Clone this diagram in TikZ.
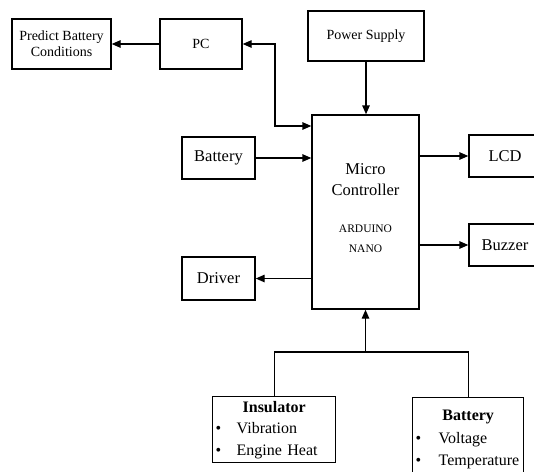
\documentclass[tikz,border=0pt]{standalone}
\usepackage{fontspec}
\setmainfont{Liberation Serif}
\usetikzlibrary{arrows.meta}

\begin{document}
\begin{tikzpicture}[x=1pt,y=-1pt,line width=1.4pt,
        >={Triangle[length=9pt,width=7.5pt]},
        blk/.style={draw,rectangle,inner sep=2pt,align=center},
        sml/.style={font=\fontsize{14}{16}\selectfont},
        big/.style={font=\fontsize{16.5}{21}\selectfont},
        lst/.style={draw,rectangle,anchor=north west,align=left,inner xsep=3pt,inner ysep=0pt,font=\fontsize{16}{21.5}\selectfont}]
        \useasboundingbox (0,0) rectangle (534,471);
        \node[blk,sml,minimum width=99,minimum height=50] (pred) at (61.5,44) {Predict Battery\\Conditions};
        \node[blk,sml,minimum width=82,minimum height=50] (pc) at (201,44) {PC};
        \node[blk,sml,minimum width=116,minimum height=50] (pwr) at (366,36) {Power Supply};
        \node[blk,minimum width=107,minimum height=194] (mc) at (365.5,212) {};
        \node[align=center,big] (mctxt) at (365.5,208) {Micro\\Controller\\[16pt]{\fontsize{11.5}{14}\selectfont ARDUINO}\\[-1pt]{\fontsize{11.5}{14}\selectfont NANO}};
        \node[blk,big,minimum width=73,minimum height=42] (bat) at (218.5,158) {Battery};
        \node[blk,big,minimum width=73,minimum height=43] (drv) at (218.5,278.5) {Driver};
        \node[blk,big,minimum width=72,minimum height=42] (lcd) at (505,156) {LCD};
        \node[blk,big,minimum width=72,minimum height=42] (buz) at (505,245) {Buzzer};
        \node[lst,text width=117pt,minimum height=66] (ins) at (212,396) {\makebox[\linewidth]{\textbf{Insulator}}\\\makebox[21pt][l]{\textbullet}Vibration\\\makebox[21pt][l]{\textbullet}Engine Heat};
        \node[lst,text width=105pt,minimum height=84,inner xsep=3pt] (sen) at (412,397) {\makebox[\linewidth]{\textbf{Battery}}\\[1pt]\makebox[23pt][l]{\textbullet}Voltage\\[1pt]\makebox[23pt][l]{\textbullet}Temperature};
        \coordinate (k) at (275,126);
        \coordinate (j) at (365.5,352);
        \draw[->] (pc.west) -- (pred.east);
        \draw[<->] (pc.east) -| (k) -- (k -| mc.west);
        \draw[->] (pwr.south) -- (pwr.south |- mc.north);
        \draw[->] (bat.east) -- (bat.east -| mc.west);
        \draw[->] (drv.east -| mc.west) -- (drv.east);
        \draw[->] (lcd.west -| mc.east) -- (lcd.west);
        \draw[->] (buz.west -| mc.east) -- (buz.west);
        \draw (ins.north) -- (ins.north |- j) -- (sen.north |- j) -- (sen.north);
        \draw[->] (j) -- (mc.south);
    \end{tikzpicture}
\end{document}
